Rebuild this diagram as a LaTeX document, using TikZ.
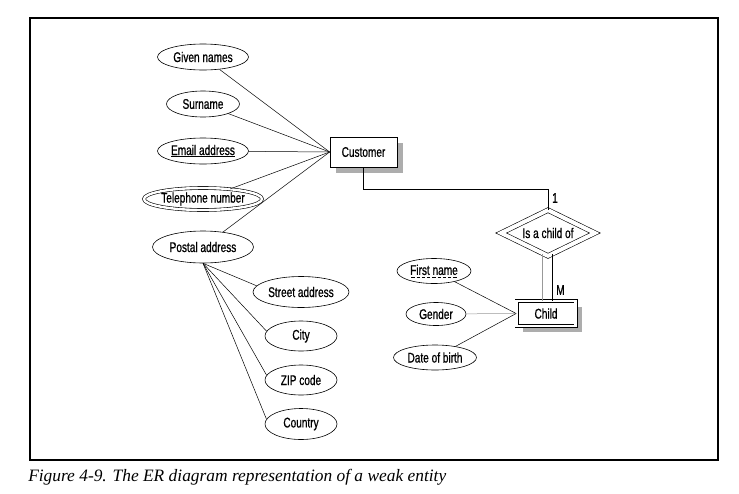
\documentclass[tikz,border=0pt]{standalone}
\usepackage{fontspec}
\setmainfont{Liberation Sans}[FakeStretch=0.72,FakeBold=0.8]
\newfontfamily\capfont{Liberation Serif}
\usetikzlibrary{shapes,shapes.geometric,shadows}

% dashed underline for the partial key
\newcommand\dashunder[1]{\setbox0\hbox{#1}%
  \vtop{\offinterlineskip\copy0\kern1.6pt
    \hbox to\wd0{\xleaders\hbox to 5pt{\hss\vrule height 0.6pt width 3.2pt\hss}\hfill}}}

\begin{document}
\begin{tikzpicture}
	[x=1pt,y=-1pt,line width=0.5pt,
	 every node/.style={inner sep=0pt,font=\fontsize{14}{16}\selectfont},
	 attr/.style={ellipse,draw,line width=0.6pt,minimum width=#1,minimum height=26},
	 multi/.style={attr=#1,double,double distance=2.4pt},
	 entity/.style={rectangle,draw,fill=white,line width=0.7pt,minimum width=67,minimum height=30,
	   drop shadow={shadow xshift=6pt,shadow yshift=-6pt,fill=black!40,opacity=0.8}},
	 weak/.style={entity,double,double distance=2.6pt,minimum width=59,minimum height=25},
	 rel/.style={diamond,aspect=2.2,draw,double,double distance=4pt,line width=0.6pt,minimum width=94,minimum height=46},
	 card/.style={anchor=west},
	 conn/.style={line width=0.5pt}]

	\useasboundingbox (0,0) rectangle (739,493);
	%\draw[help lines,step=20] (0,0) grid (739,493);
	\draw[line width=1.1pt] (30,18) rectangle (718,460);

	% customer and its attributes
	\node[attr=91] (gn) at (203,57) {Given names};
	\node[attr=73] (sn) at (203,104) {Surname};
	\node[attr=91] (em) at (203,151) {\underline{Email address}};
	\node[multi=114,minimum height=22] (tel) at (203,199) {Telephone number};
	\node[attr=101,minimum height=32] (pa) at (203,247) {Postal address};
	\node[attr=96,minimum height=31] (st) at (301,292) {Street address};
	\node[attr=72,minimum height=30] (ci) at (301,336) {City};
	\node[attr=72,minimum height=30] (zip) at (301,380) {ZIP code};
	\node[attr=72,minimum height=31] (co) at (301,424) {Country};
	\node[entity] (cust) at (363.5,152) {Customer};

	% weak entity side
	\node[rel] (isch) at (548,233) {Is a child of};
	\node[weak] (child) at (546,313.5) {Child};
	\node[attr=74,minimum height=25] (fn) at (434,271) {\dashunder{First name}};
	\node[attr=60,minimum height=23] (gd) at (436,314) {Gender};
	\node[attr=83,minimum height=25] (dob) at (435,357.5) {Date of birth};
	\node[card] (one) at (552,198) {1};
	\node[card] (many) at (556,290) {M};

	\path[conn] (gn) edge (cust.west);
	\path[conn] (sn) edge (cust.west);
	\path[conn] (em) edge (cust.west);
	\path[conn] (tel) edge (cust.west);
	\path[conn] (pa) edge (cust.west);
	\path[conn] (pa.south) edge (st.172);
	\path[conn] (pa.south) edge (ci.172);
	\path[conn] (pa.south) edge (zip.172);
	\path[conn] (pa.south) edge (co.172);

	\draw[conn] (cust.south) -- ++(0,21.5) -| (isch.north);
	\draw[conn,black!40] (isch.255) -- (isch.255 |- child.north);
	\draw[conn] (isch.282) -- (isch.282 |- child.north);

	\path[conn] (fn) edge (child.west);
	\path[conn] (gd) edge[black!40] (child.west);
	\path[conn] (dob) edge (child.west);

	\node[anchor=base west,font=\capfont\itshape\fontsize{17.4}{20}\selectfont] (cap) at (28,481)
	  {Figure 4-9. The ER diagram representation of a weak entity};

\end{tikzpicture}
\end{document}
